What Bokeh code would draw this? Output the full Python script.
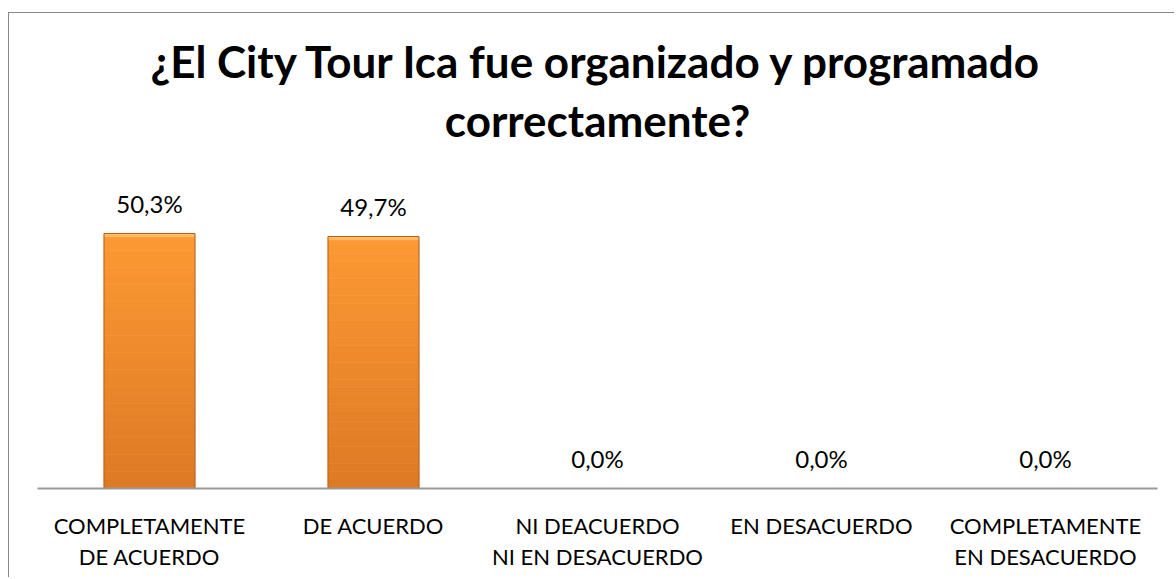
from bokeh.plotting import figure
from bokeh.models import Range1d, Label, LabelSet, ColumnDataSource
from bokeh.core.properties import value
from bokeh.embed import file_html
from bokeh.resources import INLINE

title_lines = ["¿El City Tour Ica fue organizado y programado", "correctamente?"]
category_line1 = ["COMPLETAMENTE", "DE ACUERDO", "NI DEACUERDO", "EN DESACUERDO", "COMPLETAMENTE"]
category_line2 = ["DE ACUERDO", "", "NI EN DESACUERDO", "", "EN DESACUERDO"]
values = [50.3, 49.7, 0.0, 0.0, 0.0]
value_labels = ["50,3%", "49,7%", "0,0%", "0,0%", "0,0%"]

FONT = "Lato"
xs = list(range(len(values)))

W, H = 1166, 565
PX_PER_CAT = 224.0
PX_PER_UNIT = 5.07
# frame covers the whole canvas so texts outside the bar area are not clipped
x0 = -140.0 / PX_PER_CAT
y_top = 475.0 / PX_PER_UNIT
p = figure(width=W, height=H,
           x_range=Range1d(x0, x0 + W / PX_PER_CAT),
           y_range=Range1d(y_top - H / PX_PER_UNIT, y_top),
           output_backend="svg", toolbar_location=None,
           min_border=0, min_border_left=0, min_border_right=0, min_border_top=0, min_border_bottom=0)
p.margin = (12, 0, 0, 8)
p.styles = {"border-left": "1px solid #878787", "border-top": "1px solid #878787"}
p.xaxis.visible = False
p.yaxis.visible = False
p.xgrid.visible = False
p.ygrid.visible = False
p.outline_line_color = None
p.background_fill_color = "white"
p.border_fill_color = "white"

# gradient bars (vertical shading), built from the values
N = 30
top_c = (253, 154, 52)
bot_c = (221, 121, 36)
for i in range(N):
    t = (i + 0.5) / N
    c = tuple(int(round(bot_c[k] + (top_c[k] - bot_c[k]) * t)) for k in range(3))
    col = "#%02x%02x%02x" % c
    p.vbar(x=xs, bottom=[v * i / N for v in values], top=[v * (i + 1) / N for v in values],
           width=0.406, fill_color=col, line_color=col, line_width=0.6)
# light bevel at the top of each bar
p.vbar(x=xs, bottom=[v * 0.985 for v in values], top=values, width=0.406,
       fill_color="#ffbb66", line_color=None)
p.vbar(x=xs, top=values, width=0.406, fill_color=None, line_color="#b5631c", line_width=1)

# category axis line
p.segment(x0=[-0.5], y0=[0], x1=[len(values) - 0.5], y1=[0], line_color="#9a9a9a", line_width=2)

src = ColumnDataSource(dict(x=xs, y=[v + 4.1 for v in values], t=value_labels,
                            c1y=[-4.6] * len(xs), c1=category_line1,
                            c2y=[-10.7] * len(xs), c2=category_line2))
p.add_layout(LabelSet(x="x", y="y", text="t", source=src, text_align="center",
                      text_baseline="alphabetic", text_font=value(FONT), text_font_size="24px",
                      text_color="#000000"))
p.add_layout(LabelSet(x="x", y="c1y", text="c1", source=src, text_align="center",
                      text_baseline="top", text_font=value(FONT), text_font_size="22px",
                      text_color="#000000"))
p.add_layout(LabelSet(x="x", y="c2y", text="c2", source=src, text_align="center",
                      text_baseline="top", text_font=value(FONT), text_font_size="22px",
                      text_color="#000000"))

cx = (len(values) - 1) / 2
p.add_layout(Label(x=cx, y=84.3, text=title_lines[0], text_align="center", text_baseline="alphabetic",
                   text_font=FONT, text_font_style="bold", text_font_size="44px", text_color="#000000"))
p.add_layout(Label(x=cx, y=72.7, text=title_lines[1], text_align="center", text_baseline="alphabetic",
                   text_font=FONT, text_font_style="bold", text_font_size="44px", text_color="#000000"))

open("out.html", "w").write(file_html(p, INLINE))
